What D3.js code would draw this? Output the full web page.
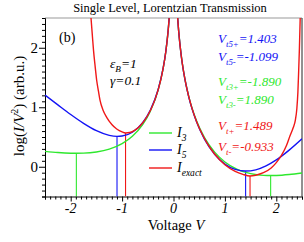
<!DOCTYPE html>
<html>
<head>
<meta charset="utf-8">
<script src="https://cdn.jsdelivr.net/npm/d3@7"></script>
<style>
  body { margin: 0; background: #fff; }
  svg text { font-family: "Liberation Serif", "Times New Roman", serif; }
</style>
</head>
<body>
<script>
// exact current, branches left and right of V=0
const vExactNeg = [-1.605, -1.58, -1.556, -1.525, -1.494, -1.46, -1.43, -1.37, -1.30, -1.2, -1.105, -1.0, -0.933, -0.85, -0.75, -0.652, -0.55, -0.45, -0.35, -0.25, -0.2, -0.15, -0.12, -0.1, -0.08]
const yExactNeg = [2.5, 2.22, 1.956, 1.69, 1.45, 1.27, 1.12, 0.95, 0.83, 0.71, 0.635, 0.585, 0.568, 0.575, 0.615, 0.685, 0.796, 0.946, 1.153, 1.453, 1.66, 1.933, 2.148, 2.325, 2.543]
const vExactPos = [0.08, 0.1, 0.12, 0.15, 0.2, 0.25, 0.35, 0.45, 0.554, 0.65, 0.8, 1.0, 1.2, 1.35, 1.489, 1.6, 1.75, 1.9, 2.0, 2.1, 2.2, 2.267, 2.33, 2.37, 2.4, 2.42, 2.435, 2.45, 2.465]
const yExactPos = [2.512, 2.285, 2.1, 1.873, 1.58, 1.352, 1.011, 0.757, 0.554, 0.402, 0.215, 0.035, -0.077, -0.127, -0.155, -0.142, -0.1, -0.02, 0.07, 0.19, 0.36, 0.52, 0.66, 0.78, 0.98, 1.25, 1.6, 2.0, 2.5]

// I3 approximation
const vI3Neg = [-2.5, -2.25, -2.0, -1.89, -1.75, -1.5, -1.25, -1.0, -0.8, -0.6, -0.45, -0.3, -0.2, -0.15, -0.1, -0.08]
const yI3Neg = [0.259, 0.239, 0.228, 0.227, 0.229, 0.249, 0.297, 0.389, 0.513, 0.708, 0.934, 1.285, 1.659, 1.932, 2.325, 2.543]
const vI3Pos = [0.08, 0.1, 0.15, 0.2, 0.3, 0.45, 0.6, 0.8, 1.0, 1.25, 1.5, 1.75, 1.89, 2.0, 2.25, 2.5]
const yI3Pos = [2.512, 2.286, 1.874, 1.581, 1.17, 0.767, 0.494, 0.245, 0.081, -0.047, -0.116, -0.145, -0.148, -0.146, -0.13, -0.105]

// I5 approximation
const vI5Neg = [-2.5, -2.25, -2.0, -1.75, -1.5, -1.25, -1.1, -1.0, -0.8, -0.6, -0.45, -0.3, -0.2, -0.15, -0.1, -0.08]
const yI5Neg = [1.205, 1.04, 0.878, 0.73, 0.606, 0.527, 0.51, 0.516, 0.58, 0.74, 0.954, 1.294, 1.664, 1.936, 2.327, 2.545]
const vI5Pos = [0.08, 0.1, 0.15, 0.2, 0.3, 0.45, 0.6, 0.8, 1.0, 1.2, 1.403, 1.6, 1.8, 2.0, 2.25, 2.5]
const yI5Pos = [2.51, 2.283, 1.87, 1.576, 1.161, 0.75, 0.468, 0.21, 0.045, -0.045, -0.072, -0.052, 0.015, 0.115, 0.28, 0.47]

// transition voltages and the curve value there
const vtI3 = [-1.890, 1.890], ytI3 = [0.227, -0.148]
const vtI5 = [-1.099, 1.403], ytI5 = [0.51, -0.072]
const vtEx = [-0.933, 1.489], ytEx = [0.568, -0.155]

const xTicks = [-2, -1, 0, 1, 2]
const yTicks = [0, 1, 2]

const GREEN = '#2ee82e'
const BLUE = '#1414f5'
const RED = '#f01818'

const W = 304, H = 242
const mLeft = 45, mRight = 302, mTop = 18, mBottom = 196.5

const svg = d3.select('body').append('svg')
  .attr('width', W)
  .attr('height', H)

const x = d3.scaleLinear().domain([-2.5, 2.5]).range([mLeft, mRight])
const y = d3.scaleLinear().domain([-0.5, 2.5]).range([mBottom, mTop])

svg.append('clipPath').attr('id', 'plot')
  .append('rect')
  .attr('x', mLeft).attr('y', mTop)
  .attr('width', mRight - mLeft).attr('height', mBottom - mTop)

// frame: top and right plain lines
svg.append('line')
  .attr('x1', mLeft).attr('x2', mRight).attr('y1', mTop).attr('y2', mTop)
  .attr('stroke', '#999').attr('stroke-width', 1)
svg.append('line')
  .attr('x1', mRight).attr('x2', mRight).attr('y1', mTop).attr('y2', mBottom)
  .attr('stroke', '#222').attr('stroke-width', 1)

// axes with minor ticks every 0.1
const xAxis = d3.axisBottom(x).tickValues(d3.range(-25, 26).map(d => d / 10))
  .tickSize(3).tickFormat('')
const gx = svg.append('g').attr('transform', `translate(0,${mBottom})`).call(xAxis)
gx.selectAll('.tick line').attr('stroke', '#000')
  .attr('y2', d => xTicks.includes(Math.round(d * 10) / 10) ? 5 : 3)
gx.select('.domain').attr('stroke', '#000')

const yAxis = d3.axisLeft(y).tickValues(d3.range(-5, 26).map(d => d / 10))
  .tickSize(3).tickFormat('')
const gy = svg.append('g').attr('transform', `translate(${mLeft},0)`).call(yAxis)
gy.selectAll('.tick line').attr('stroke', '#000')
  .attr('x2', d => yTicks.includes(Math.round(d * 10) / 10) ? -6 : -3)
gy.select('.domain').attr('stroke', '#000')

svg.selectAll('.xlab').data(xTicks).enter().append('text')
  .attr('class', 'xlab')
  .attr('x', d => x(d))
  .attr('y', 213)
  .attr('text-anchor', 'middle')
  .style('font-size', '14px')
  .style('font-style', 'italic')
  .text(d => d < 0 ? '-' + Math.abs(d) : d)

svg.selectAll('.ylab').data(yTicks).enter().append('text')
  .attr('class', 'ylab')
  .attr('x', 38)
  .attr('y', d => y(d) + 5)
  .attr('text-anchor', 'end')
  .style('font-size', '15px')
  .text(d => d)

// drop lines at the transition voltages
const plot = svg.append('g').attr('clip-path', 'url(#plot)')

function drops(vs, ys, color) {
  plot.selectAll(null).data(vs).enter().append('line')
    .attr('x1', d => x(d)).attr('x2', d => x(d))
    .attr('y1', (d, i) => y(ys[i])).attr('y2', y(-0.5))
    .attr('stroke', color).attr('stroke-width', 1.1)
}
drops(vtI3, ytI3, GREEN)
drops(vtI5, ytI5, BLUE)
drops(vtEx, ytEx, RED)

const line = d3.line()
  .x(d => x(d[0]))
  .y(d => y(d[1]))
  .curve(d3.curveMonotoneX)

function curve(vs, ys, color) {
  plot.append('path')
    .datum(vs.map((v, i) => [v, ys[i]]))
    .attr('d', line)
    .attr('fill', 'none')
    .attr('stroke', color)
    .attr('stroke-width', 1.4)
}
curve(vI3Neg, yI3Neg, GREEN)
curve(vI3Pos, yI3Pos, GREEN)
curve(vI5Neg, yI5Neg, BLUE)
curve(vI5Pos, yI5Pos, BLUE)
curve(vExactNeg, yExactNeg, RED)
curve(vExactPos, yExactPos, RED)

// title
svg.append('text')
  .attr('x', 170).attr('y', 12)
  .attr('text-anchor', 'middle')
  .style('font-size', '12.5px')
  .text('Single Level, Lorentzian Transmission')

// axis titles
const xt = svg.append('text')
  .attr('x', 176).attr('y', 230)
  .attr('text-anchor', 'middle')
  .style('font-size', '14.5px')
xt.append('tspan').text('Voltage ')
xt.append('tspan').style('font-style', 'italic').text('V')

const yt = svg.append('text')
  .attr('transform', 'translate(24,106) rotate(-90)')
  .attr('text-anchor', 'middle')
  .style('font-size', '15px')
yt.append('tspan').text('log(')
yt.append('tspan').style('font-style', 'italic').text('I/V')
yt.append('tspan').attr('dy', -6).style('font-size', '10px').text('2')
yt.append('tspan').attr('dy', 6).text(') (arb.u.)')

svg.append('text')
  .attr('x', 59).attr('y', 42)
  .style('font-size', '14px')
  .text('(b)')

// text with a subscript
function subText(px, py, main, sub, rest, color, size) {
  const t = svg.append('text')
    .attr('x', px).attr('y', py)
    .attr('fill', color)
    .style('font-style', 'italic')
    .style('font-size', size + 'px')
  t.append('tspan').text(main)
  t.append('tspan').attr('dy', 4).style('font-size', (size * 0.68) + 'px').text(sub)
  t.append('tspan').attr('dy', -4).text(rest)
}

subText(110, 68, 'ε', 'B', '=1', '#000', 13.5)
subText(110, 85, 'γ=0.1', '', '', '#000', 13.5)

subText(218, 43, 'V', 't5+', '=1.403', BLUE, 13)
subText(218, 61, 'V', 't5-', '=-1.099', BLUE, 13)
subText(218, 86, 'V', 't3+', '=-1.890', GREEN, 13)
subText(218, 104, 'V', 't3-', '=1.890', GREEN, 13)
subText(218, 130, 'V', 't+', '=1.489', RED, 13)
subText(218, 151, 'V', 't-', '=-0.933', RED, 13)

// legend
const legend = [
  { sub: '3', color: GREEN, yy: 133 },
  { sub: '5', color: BLUE, yy: 150 },
  { sub: 'exact', color: RED, yy: 168 },
]
legend.forEach(d => {
  svg.append('line')
    .attr('x1', 149).attr('x2', 172)
    .attr('y1', d.yy).attr('y2', d.yy)
    .attr('stroke', d.color).attr('stroke-width', 1.4)
  subText(177, d.yy + 4, 'I', d.sub, '', '#000', 14)
})
</script>
</body>
</html>
